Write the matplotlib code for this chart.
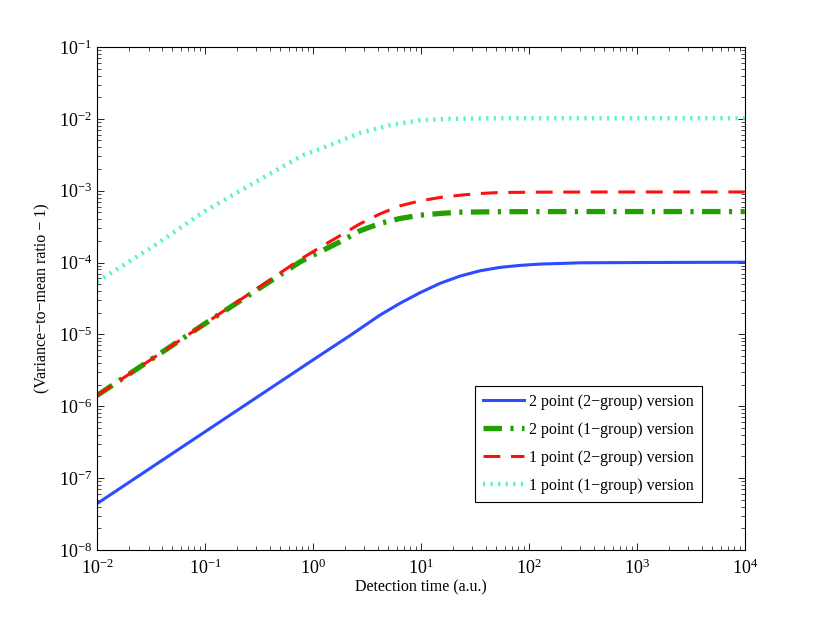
import matplotlib
matplotlib.use("Agg")
import matplotlib.pyplot as plt
import numpy as np

plt.rcParams['font.family'] = ['Liberation Serif', 'DejaVu Serif']
plt.rcParams['mathtext.fontset'] = 'custom'
plt.rcParams['mathtext.rm'] = 'Liberation Serif'
plt.rcParams['mathtext.it'] = 'Liberation Serif:italic'

# values
t_blue = [0.01, 0.1, 1, 2.2, 4.17, 6.39, 9.79, 15.0, 23.0, 35.2, 53.8, 82.5,
          126, 297, 1000, 10000]
y_blue = [4.4e-8, 4.4e-7, 4.4e-6, 9.6e-6, 1.85e-5, 2.70e-5, 3.79e-5, 5.12e-5,
          6.47e-5, 7.67e-5, 8.55e-5, 9.12e-5, 9.51e-5, 9.91e-5, 1.0e-4, 1.01e-4]

t_green = [0.01, 0.1, 0.759, 1.161, 1.778, 2.723, 4.17, 6.39, 9.79, 15.0,
           23.0, 53.8, 200, 10000]
y_green = [1.41e-6, 1.41e-5, 1.02e-4, 1.41e-4, 1.94e-4, 2.76e-4, 3.50e-4,
           4.10e-4, 4.56e-4, 4.82e-4, 5.02e-4, 5.1e-4, 5.12e-4, 5.12e-4]

t_red = [0.01, 0.1, 0.759, 1.161, 1.778, 2.723, 4.17, 6.39, 9.79, 15.0,
         23.0, 35.2, 53.8, 126, 500, 10000]
y_red = [1.41e-6, 1.41e-5, 1.10e-4, 1.62e-4, 2.36e-4, 3.45e-4, 4.75e-4,
         6.15e-4, 7.21e-4, 8.04e-4, 8.65e-4, 9.14e-4, 9.44e-4, 9.55e-4,
         9.6e-4, 9.6e-4]

t_cyan = [0.01, 0.031, 0.1, 0.245, 0.808, 1.437, 2.723, 5.16, 9.79, 18.6,
          53.8, 10000]
y_cyan = [5.4e-5, 1.57e-4, 5.2e-4, 1.13e-3, 3.12e-3, 4.30e-3, 6.37e-3,
          8.15e-3, 9.57e-3, 1.0e-2, 1.02e-2, 1.02e-2]

labels = ["2 point (2\u2212group) version", "2 point (1\u2212group) version",
          "1 point (2\u2212group) version", "1 point (1\u2212group) version"]

fig = plt.figure(figsize=(8.22, 6.27), dpi=100)
ax = fig.add_axes([0.118, 0.123, 0.788, 0.802])

ax.loglog(t_blue, y_blue, color='#2b4cff', lw=2.2, ls='-', label=labels[0])
ax.loglog(t_green, y_green, color='#22a000', lw=3.8, ls=(0, (3.5, 1.6, 0.6, 1.6)), label=labels[1])
ax.loglog(t_red, y_red, color='#ff1010', lw=2.2, ls=(0, (5.5, 3.5)), label=labels[2])
ax.loglog(t_cyan, y_cyan, color='#55f5c0', lw=3.2, ls=(0, (0.5, 1.2)), label=labels[3])

ax.set_xlim(1e-2, 1e4)
ax.set_ylim(1e-8, 1e-1)
ax.set_xticks([1e-2, 1e-1, 1e0, 1e1, 1e2, 1e3, 1e4])
ax.set_yticks([1e-8, 1e-7, 1e-6, 1e-5, 1e-4, 1e-3, 1e-2, 1e-1])

ax.tick_params(which='both', direction='in', top=True, right=True, labelsize=13)
ax.tick_params(which='major', length=5, width=0.6)
ax.tick_params(which='minor', length=3, width=0.5)
ax.tick_params(axis='x', pad=6)
for s in ax.spines.values():
    s.set_linewidth(0.8)

ax.set_xlabel("Detection time (a.u.)", fontsize=11.5, labelpad=1)
ax.set_ylabel("(Variance\u2212to\u2212mean ratio \u2212 1)", fontsize=11.5, labelpad=6)

leg = ax.legend(loc='lower right', bbox_to_anchor=(0.946, 0.08), fontsize=11.5,
                fancybox=False, framealpha=1, edgecolor='black',
                handlelength=2.6, labelspacing=0.75, borderpad=0.5, handletextpad=0.3)
leg.get_frame().set_linewidth(0.8)

fig.savefig("out.png", dpi=100)
